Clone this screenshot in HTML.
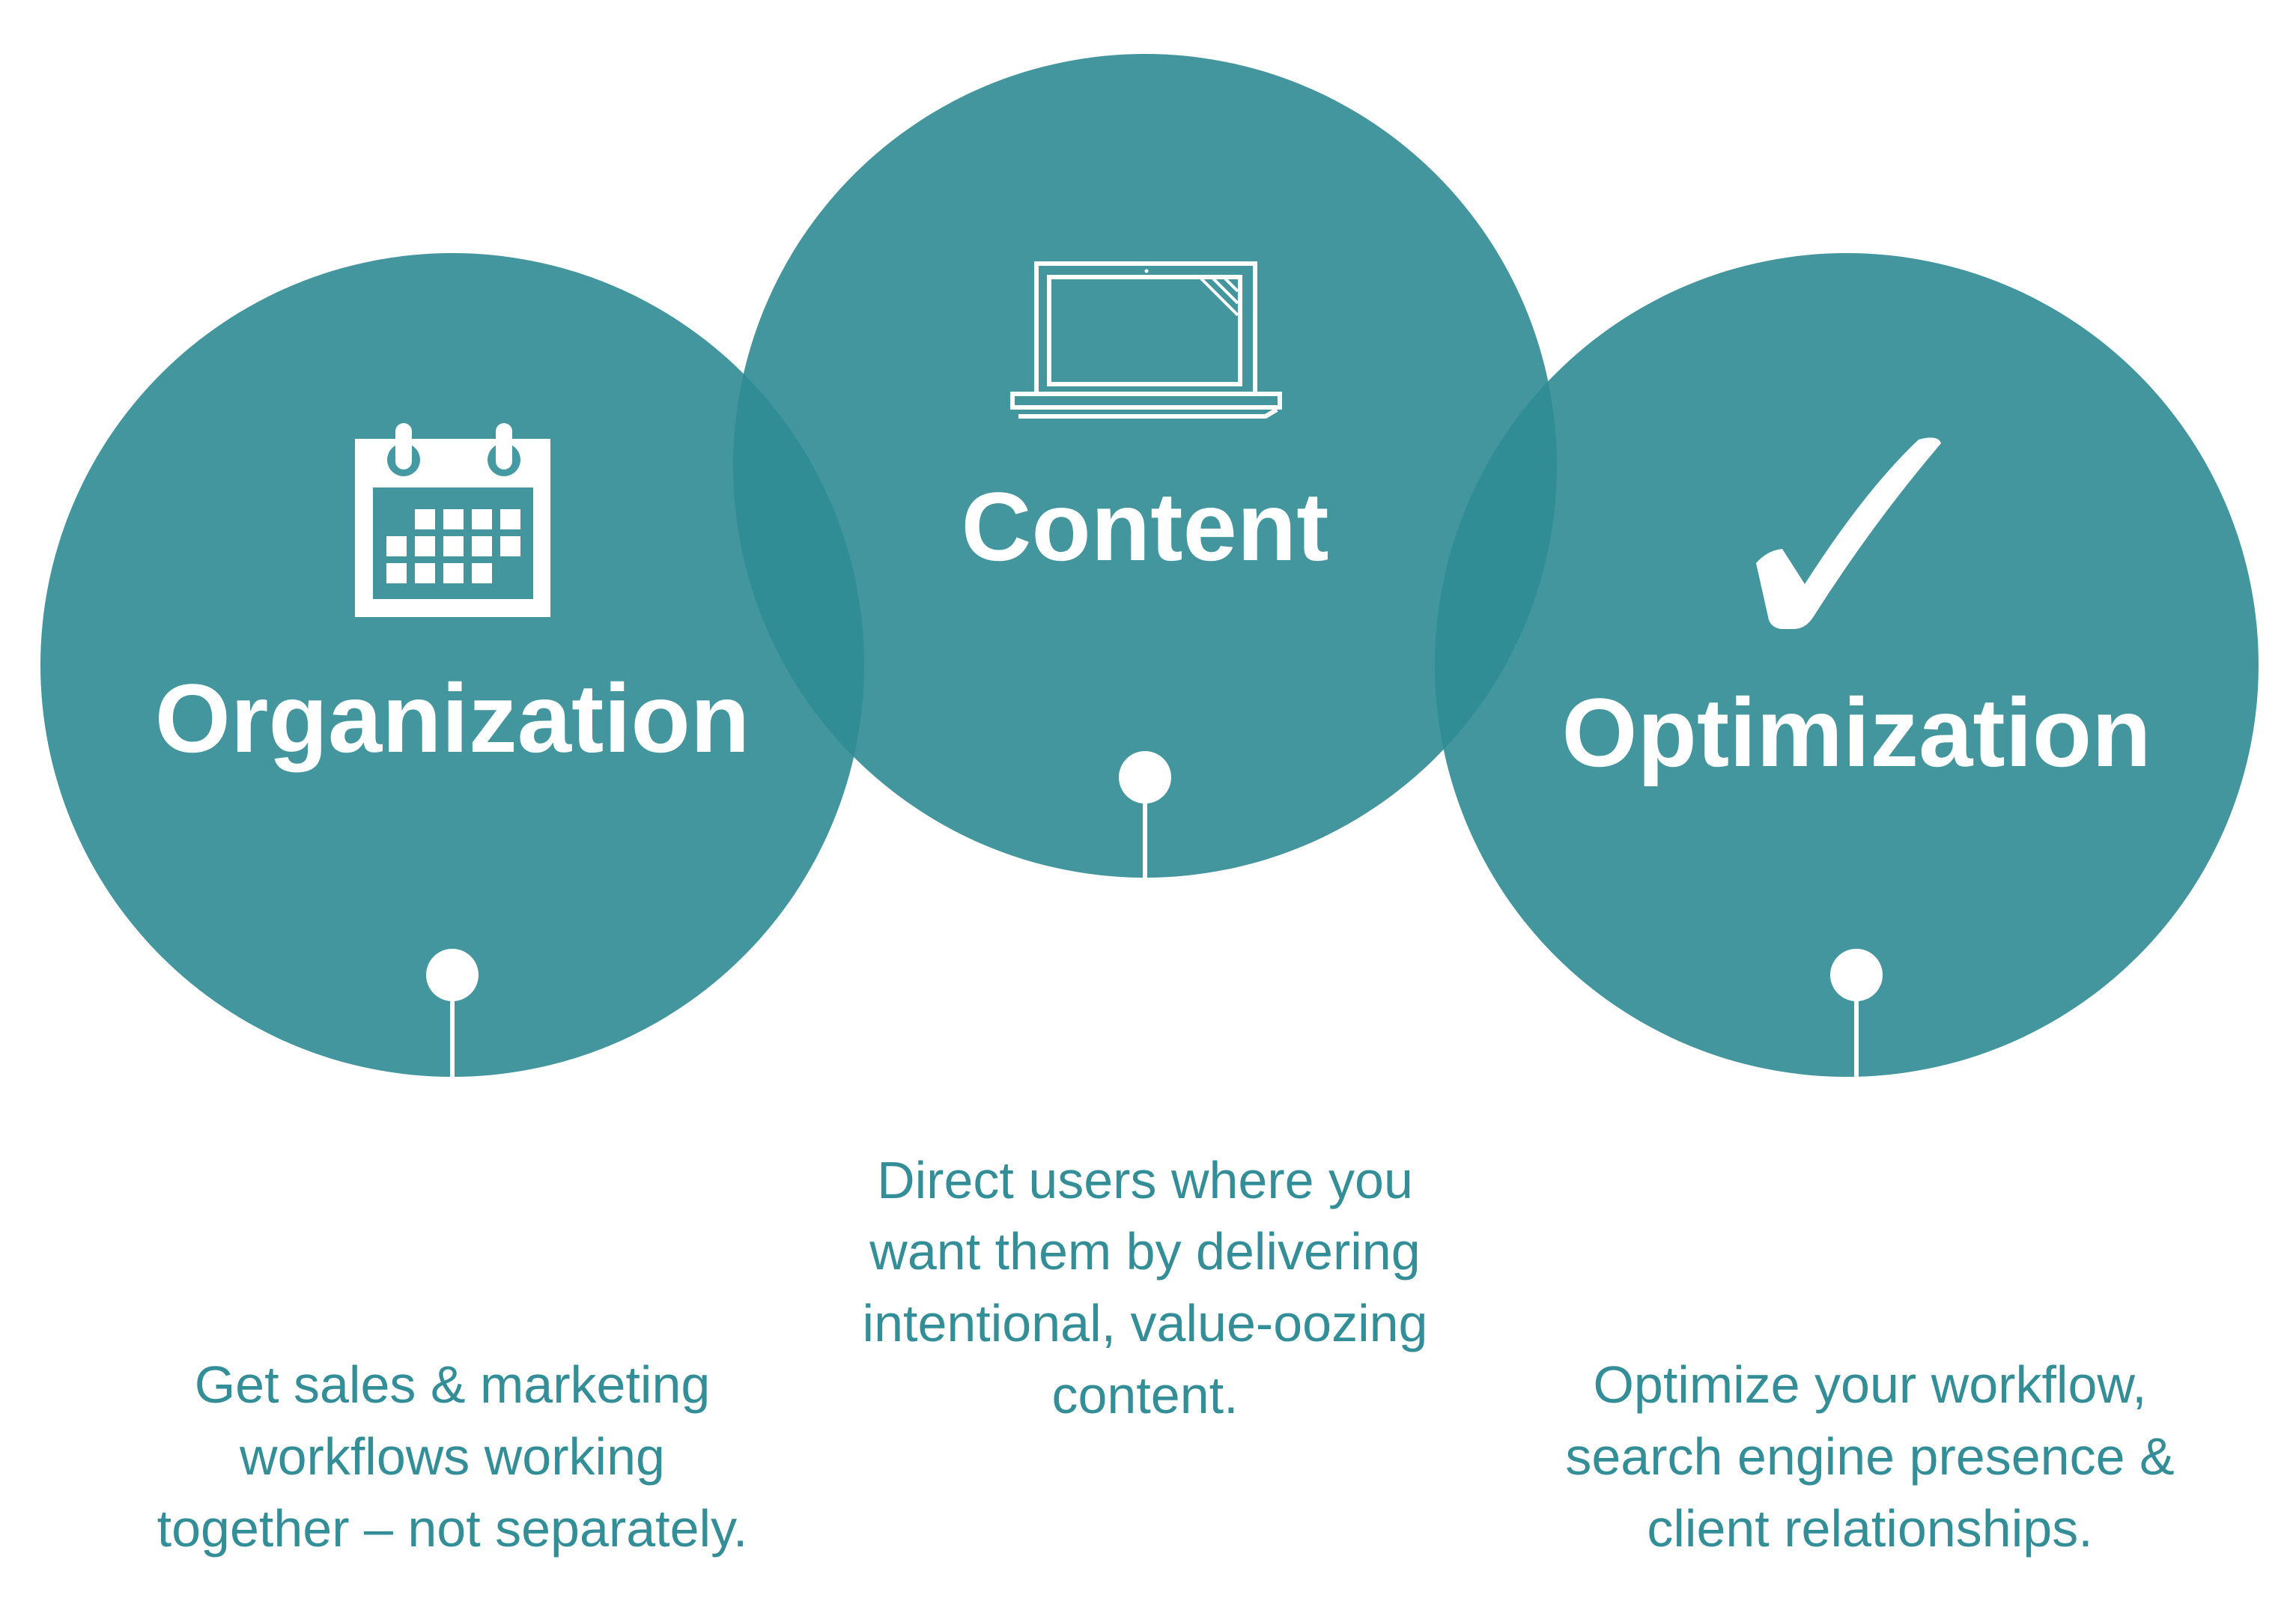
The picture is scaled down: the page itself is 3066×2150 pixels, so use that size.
<!DOCTYPE html>
<html><head><meta charset="utf-8"><style>
html,body{margin:0;padding:0;background:#fff}
svg{display:block}
</style></head><body>
<svg width="3066" height="2150" viewBox="0 0 3066 2150" xmlns="http://www.w3.org/2000/svg">
<g fill="#2f8b94" fill-opacity="0.9">
<circle cx="604" cy="888" r="550"/>
<circle cx="1529" cy="622" r="550"/>
<circle cx="2466" cy="888" r="550"/>
</g>
<g fill="#fff">
<circle cx="604" cy="1302" r="35"/><rect x="601" y="1320" width="6" height="118"/>
<circle cx="1529" cy="1038" r="35"/><rect x="1526" y="1056" width="6" height="117"/>
<circle cx="2479" cy="1302" r="35"/><rect x="2476" y="1320" width="6" height="118"/>
</g>
<g fill="#fff">
<path fill-rule="evenodd" d="M474 586H735V824H474Z M498 651V800H712V651Z"/>
<circle cx="539" cy="614" r="22" fill="#4499a2"/>
<circle cx="673" cy="614" r="22" fill="#4499a2"/>
<rect x="528" y="565" width="22" height="62" rx="11"/>
<rect x="662" y="565" width="22" height="62" rx="11"/>
<g>
<rect x="554" y="680" width="27" height="27"/><rect x="592" y="680" width="27" height="27"/><rect x="630" y="680" width="27" height="27"/><rect x="668" y="680" width="27" height="27"/>
<rect x="516" y="716" width="27" height="27"/><rect x="554" y="716" width="27" height="27"/><rect x="592" y="716" width="27" height="27"/><rect x="630" y="716" width="27" height="27"/><rect x="668" y="716" width="27" height="27"/>
<rect x="516" y="752" width="27" height="27"/><rect x="554" y="752" width="27" height="27"/><rect x="592" y="752" width="27" height="27"/><rect x="630" y="752" width="27" height="27"/>
</g>
</g>
<g fill="none" stroke="#fff" stroke-width="6">
<path d="M1384 523V352H1676V523"/>
<rect x="1401" y="370" width="255" height="143"/>
<path d="M1352 526H1709V544H1352Z"/>
<path d="M1360 556H1690L1705 547"/>
<path d="M1604 372L1653 421M1620 372L1653 405M1636 372L1653 389" stroke-width="4"/>
</g>
<circle cx="1531" cy="362" r="2.5" fill="#fff"/>
<path fill="#fff" d="M2345 752Q2360 735 2380 733L2410 780Q2490 655 2562 587Q2588 580 2592 592Q2500 700 2420 826Q2410 840 2395 840L2378 840Q2366 838 2362 828Z"/>
<g fill="#fff" font-family="Liberation Sans, sans-serif" font-weight="bold" text-anchor="middle" font-size="130">
<text x="604" y="1004">Organization</text>
<text x="1529" y="748">Content</text>
<text x="2479" y="1023">Optimization</text>
</g>
<g fill="#338e97" font-family="Liberation Sans, sans-serif" text-anchor="middle" font-size="70">
<text x="1529" y="1600">Direct users where you</text>
<text x="1529" y="1695">want them by delivering</text>
<text x="1529" y="1791">intentional, value-oozing</text>
<text x="1529" y="1887">content.</text>
<text x="604" y="1873">Get sales &amp; marketing</text>
<text x="604" y="1969">workflows working</text>
<text x="604" y="2065">together – not separately.</text>
<text x="2497" y="1873">Optimize your workflow,</text>
<text x="2497" y="1969">search engine presence &amp;</text>
<text x="2497" y="2065">client relationships.</text>
</g>
</svg>
</body></html>
